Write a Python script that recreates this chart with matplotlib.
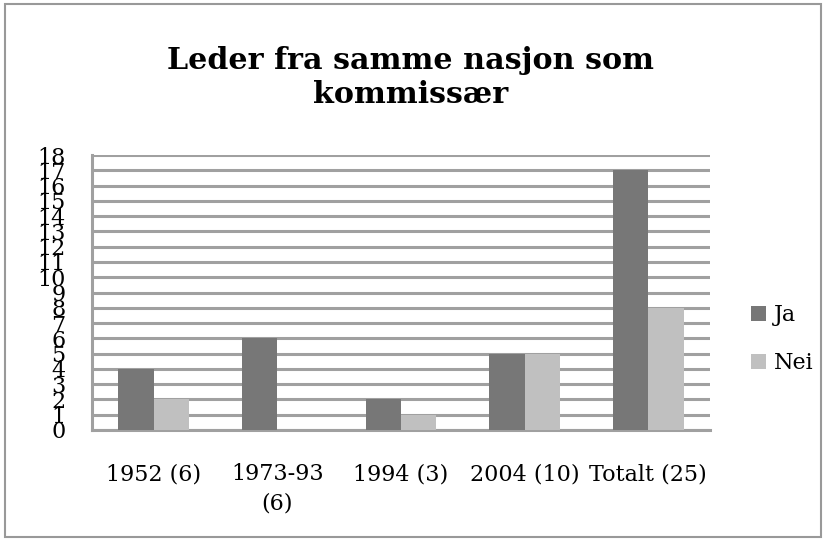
import matplotlib.pyplot as plt
import numpy as np
from matplotlib.patches import Rectangle

categories = ["1952 (6)", "1973-93\n(6)", "1994 (3)", "2004 (10)", "Totalt (25)"]
ja = [4, 6, 2, 5, 17]
nei = [2, 0, 1, 5, 8]

serif = ["DejaVu Serif"]

fig = plt.figure(figsize=(8.26, 5.41), dpi=100)
fig.patches.append(Rectangle((0.006, 0.007), 0.988, 0.986, transform=fig.transFigure,
                             fill=False, edgecolor="#999999", lw=1.5))

ax = fig.add_axes([92 / 826, 1 - 430 / 541, 618 / 826, 275 / 541])
x = np.arange(len(categories))
w = 0.287
ax.bar(x - w / 2, ja, w, color="#777777", label="Ja", zorder=3)
ax.bar(x + w / 2, nei, w, color="#c0c0c0", label="Nei", zorder=3)

ax.set_xlim(-0.5, len(categories) - 0.5)
ax.set_ylim(0, 18)
ax.set_yticks(range(0, 19))
ax.yaxis.grid(True, color="#a0a0a0", lw=2.2, zorder=0)
ax.set_axisbelow(True)
for s in ["top", "right"]:
    ax.spines[s].set_visible(False)
for s in ["left", "bottom"]:
    ax.spines[s].set_color("#a0a0a0")
    ax.spines[s].set_linewidth(2.2)
ax.tick_params(axis="y", length=0, pad=19)
ax.tick_params(axis="x", length=0, pad=24)
ax.set_xticks(x)
ax.set_xticklabels(categories, fontfamily=serif, fontsize=16, linespacing=1.45, va="top")
for lab in ax.get_yticklabels():
    lab.set_fontfamily(serif)
    lab.set_fontsize(16)

fig.text(0.497, 0.857, "Leder fra samme nasjon som\nkommissær", ha="center", va="center",
         fontsize=21.7, fontweight="bold", fontfamily=serif, linespacing=1.2)

leg = ax.legend(loc="center left", bbox_to_anchor=(1.066, 0.33), frameon=False,
                prop={"family": serif, "size": 16}, handlelength=0.69, handleheight=0.69,
                handletextpad=0.35, labelspacing=1.15, borderpad=0, borderaxespad=0)

fig.savefig("out.png", dpi=100)
